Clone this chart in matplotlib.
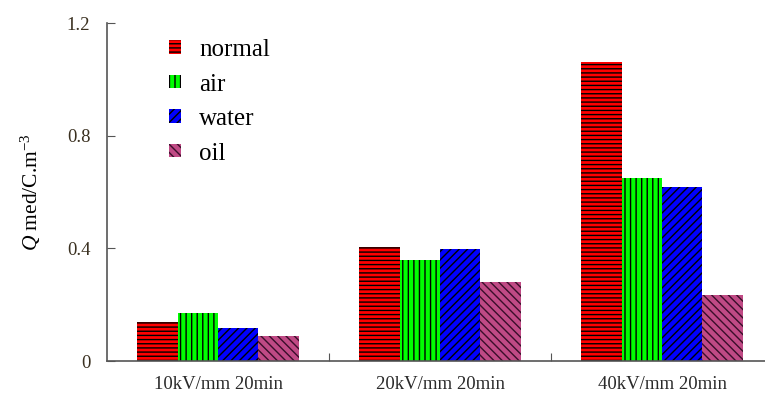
import matplotlib
matplotlib.use("Agg")
import matplotlib.pyplot as plt
import numpy as np

categories = ["10kV/mm 20min", "20kV/mm 20min", "40kV/mm 20min"]
series_names = ["normal", "air", "water", "oil"]
normal = [0.14, 0.405, 1.062]
air = [0.17, 0.358, 0.649]
water = [0.117, 0.398, 0.617]
oil = [0.088, 0.28, 0.234]
yticks = [0, 0.4, 0.8, 1.2]
ytick_labels = ["0", "0.4", "0.8", "1.2"]

colors = ["#ff0000", "#00ff00", "#0000ff", "#c04a85"]
hatch_colors = ["black", "black", "black", "#3a0e2a"]
hatches = ["----", "|||", "////", "\\\\\\\\"]

plt.rcParams["font.family"] = ["Liberation Serif", "DejaVu Serif"]
plt.rcParams["hatch.linewidth"] = 1.0
plt.rcParams["mathtext.fontset"] = "custom"
plt.rcParams["mathtext.rm"] = "Liberation Serif"
plt.rcParams["mathtext.it"] = "Liberation Serif:italic"

fig = plt.figure(figsize=(7.65, 4.08), dpi=100)
ax = fig.add_axes([107 / 765, 47 / 408, 658 / 765, 337.7 / 408])

x = np.arange(len(categories))
w = 0.182
data = [normal, air, water, oil]
for i, (name, vals) in enumerate(zip(series_names, data)):
    ax.bar(x + (i - 1.5) * w, vals, width=w, color=colors[i], hatch=hatches[i],
           edgecolor=hatch_colors[i], linewidth=0, label=name)

ax.set_xlim(-0.5, -0.5 + 658 / 222)
ax.set_ylim(0, 1.2)
ax.set_yticks(yticks)
ax.set_yticklabels(ytick_labels, fontsize=13.5, color="#3a3020")
ax.set_xticks([0.5, 1.5], minor=False)
ax.set_xticklabels([])
ax.set_xticks(x, minor=True)
ax.set_xticklabels(categories, minor=True, fontsize=13.5, color="#2a2a2a")
ax.tick_params(axis="x", which="minor", length=0, pad=11)
ax.tick_params(axis="x", which="major", direction="in", length=6, color="#555555")
ax.tick_params(axis="y", direction="in", length=6, color="#555555", pad=12)

for s in ["top", "right"]:
    ax.spines[s].set_visible(False)
for s in ["left", "bottom"]:
    ax.spines[s].set_color("#555555")
    ax.spines[s].set_linewidth(1.2)

ax.set_ylabel(r"$\mathit{Q}$ med/C.m$^{-3}$", fontsize=15.5, labelpad=17)

ax.legend(loc="upper left", bbox_to_anchor=(0.0796, 0.983), frameon=False,
          fontsize=18, handlelength=0.45, handleheight=0.45, labelspacing=0.5,
          handletextpad=0.75, borderaxespad=0)

fig.savefig("out.png", dpi=100)
